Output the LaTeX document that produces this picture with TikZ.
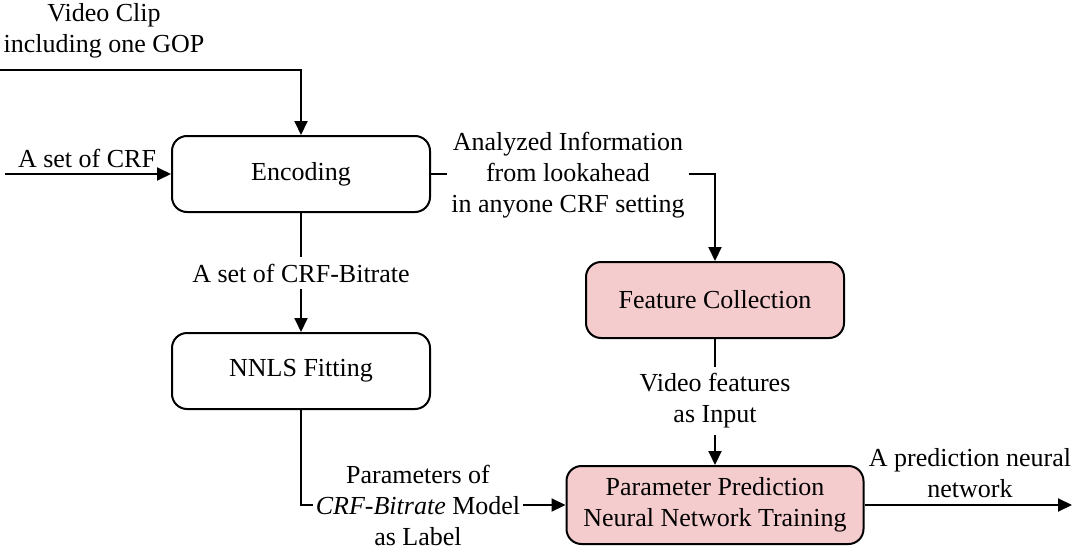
\documentclass[tikz,border=0pt]{standalone}
\usepackage{fontspec}
\setmainfont{Liberation Serif}
\usetikzlibrary{arrows.meta,positioning}
\definecolor{boxpink}{RGB}{245,204,206}

\begin{document}
\begin{tikzpicture}[x=0.5pt, y=-0.5pt, line width=1pt,
  >={Triangle[length=7pt,width=6.5pt]},
  every node/.style={font=\fontsize{13}{15.5}\selectfont, align=center},
  stage/.style={draw, rounded corners=7.5pt, minimum width=129pt, minimum height=38pt, inner sep=2pt},
  learn/.style={stage, fill=boxpink},
  tag/.style={inner sep=1.5pt}]
  \useasboundingbox (0,0) rectangle (1080,551);

  % boxes
  \node[stage] (enc) at (301,174) {Encoding};
  \node[stage] (nnls) at (301,371) {NNLS Fitting};
  \node[learn] (feat) at (715,300) {Feature Collection};
  \node[learn, minimum width=148.5pt, minimum height=39pt] (train) at (715,505)
    {Parameter Prediction\\Neural Network Training};

  % inputs
  \coordinate (clipin) at (0,70);
  \coordinate (crfin) at (5,174);
  \node (cliptxt) at (104,31) {Video Clip\\including one GOP};
  \node (crftxt) at (87,158) {A set of CRF};
  \draw[->] (clipin) -| (enc.north);
  \draw[->] (crfin) -- (enc.west);

  % labelled connectors
  \node[tag] (info) at (568,175) {Analyzed Information\\from lookahead\\in anyone CRF setting};
  \draw (enc.east) -- (enc.east -| info.west);
  \draw[->] (enc.east -| info.east) -| (feat.north);

  \node[tag, inner sep=3pt] (rate) at (301,273) {A set of CRF-Bitrate};
  \draw (enc.south) -- (rate.north);
  \draw[->] (rate.south) -- (nnls.north);

  \node[tag, inner sep=3pt] (vfeat) at (715,401) {Video features\\as Input};
  \draw (feat.south) -- (vfeat.north);
  \draw[->] (vfeat.south) -- (train.north);

  \node[tag, inner sep=1pt] (param) at (418,505) {Parameters of\\\textit{CRF-Bitrate} Model\\as Label};
  \draw (nnls.south) |- (param.west);
  \draw[->] (param.east) -- (train.west);

  % output
  \coordinate (netout) at (1072,505);
  \node (outtxt) at (970,473) {A prediction neural\\network};
  \draw[->] (train.east) -- (netout);
\end{tikzpicture}
\end{document}
